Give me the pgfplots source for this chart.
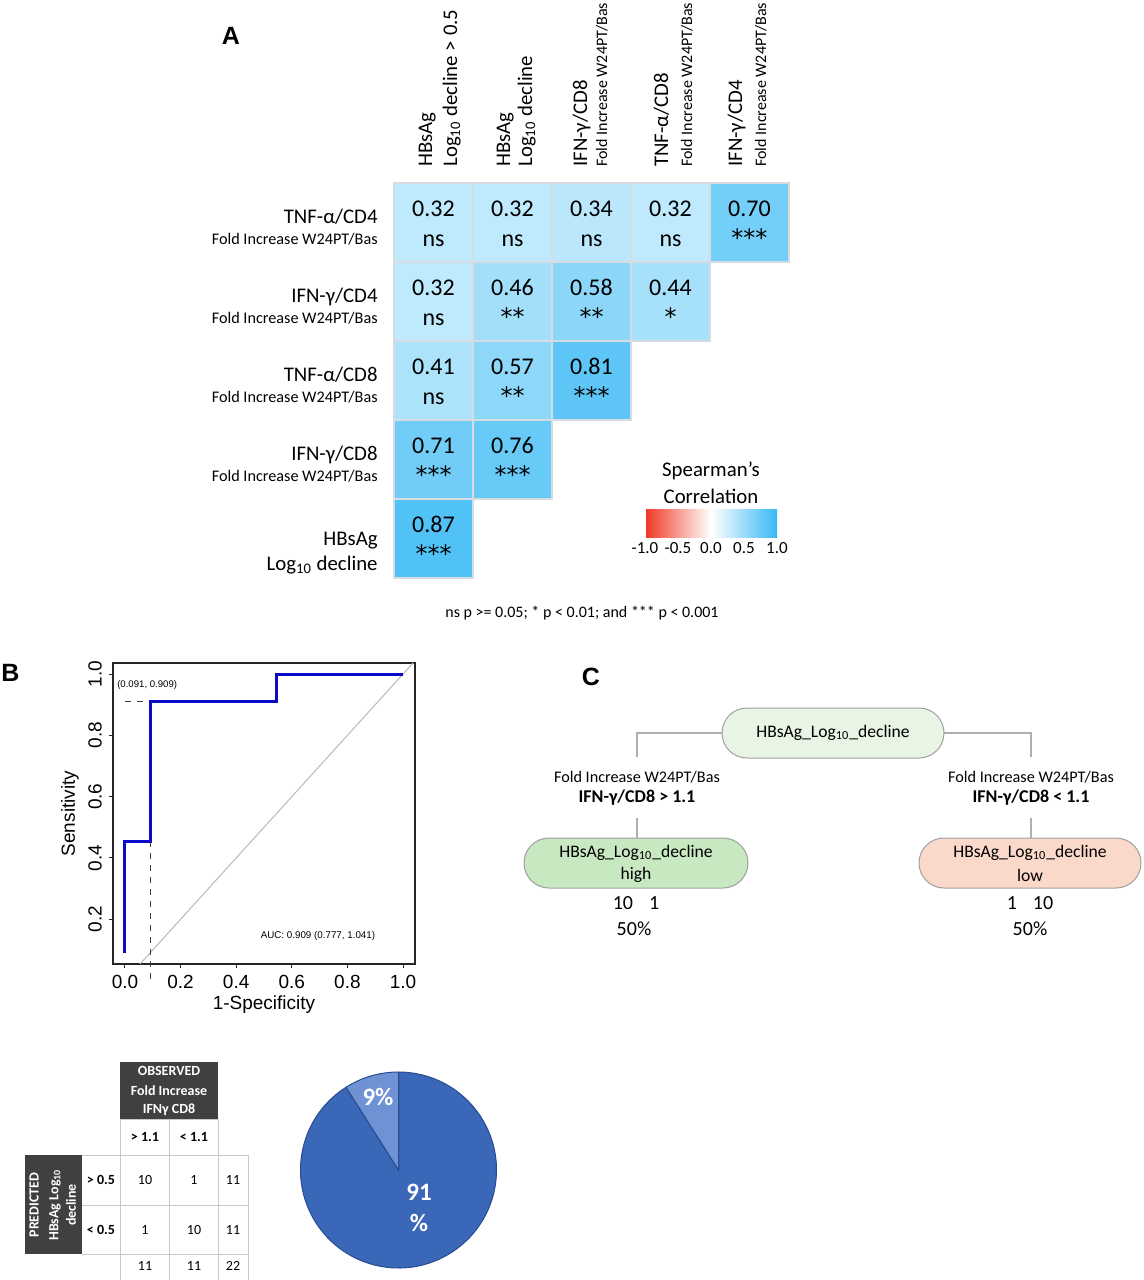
\documentclass[border=0pt]{standalone}
\usepackage{pgfplots}
\pgfplotsset{compat=1.18}
\usepackage{pgfplotstable}
\usepackage{fontspec}
\setmainfont{Carlito}
\newfontfamily\arialf{Liberation Sans}
\newfontfamily\dejavu{DejaVu Sans}
\usetikzlibrary{shapes.misc,calc}

\definecolor{cellborder}{RGB}{214,220,226}
\definecolor{rocblue}{RGB}{10,10,200}
\definecolor{rootgreen}{RGB}{232,245,228}
\definecolor{leafgreen}{RGB}{200,232,194}
\definecolor{leafpink}{RGB}{251,217,202}
\definecolor{darkhdr}{RGB}{64,64,64}
\definecolor{piebig}{RGB}{58,103,184}
\definecolor{piesmall}{RGB}{110,146,212}
\definecolor{pieedge}{RGB}{40,75,145}
\definecolor{tableline}{RGB}{200,200,200}
\definecolor{treeline}{RGB}{175,175,175}

\pgfplotsset{
  colormap={spear}{rgb255(0cm)=(240,55,35); rgb255(1cm)=(255,255,255); rgb255(2cm)=(55,185,245)}
}
\newcommand{\fnt}[1]{\fontsize{#1}{#1}\selectfont}
\def\nsstr{ns}
\newcommand{\sigfmt}{\edef\tmpsig{\pgfplotspointmeta}\ifx\tmpsig\nsstr ns\else{\dejavu\tmpsig}\fi}

% correlation matrix (x = column, y = row from bottom)
\pgfplotstableread{
x y r sig
1 5 0.32 ns
2 5 0.32 ns
3 5 0.34 ns
4 5 0.32 ns
5 5 0.70 ***
1 4 0.32 ns
2 4 0.46 **
3 4 0.58 **
4 4 0.44 *
1 3 0.41 ns
2 3 0.57 **
3 3 0.81 ***
1 2 0.71 ***
2 2 0.76 ***
1 1 0.87 ***
}\corrtable

% ROC curve
\pgfplotstableread{
fpr tpr
0.000 0.0909
0.000 0.4545
0.0909 0.4545
0.0909 0.9091
0.5455 0.9091
0.5455 1.0000
1.0000 1.0000
}\roctable

% pie
\pgfplotstableread{
slice value
correct 91
wrong 9
}\pietable
\pgfplotstablegetelem{1}{value}\of\pietable
\let\pieWrong\pgfplotsretval
\pgfmathsetmacro\pieAngle{90+3.6*\pieWrong}

\begin{document}
\begin{tikzpicture}[x=0.5pt,y=-0.5pt]
\useasboundingbox (0,0) rectangle (1144,1280);
\coordinate (hmSW) at (394,578);
\coordinate (rocSW) at (113,964);
\coordinate (pieC) at (398.5,1170);

% ---------------- Panel A ----------------
\node[font=\arialf\bfseries\fnt{12.5}] at (231,36) {A};

\begin{axis}[at={(hmSW)}, anchor=south west, scale only axis,
  width=197.5pt, height=197.5pt,
  xmin=0.5, xmax=5.5, ymin=0.5, ymax=5.5,
  axis line style={draw=none}, xtick=\empty, ytick=\empty,
  clip=false,
  colormap name=spear, point meta min=-1, point meta max=1,
  colorbar horizontal,
  colorbar style={
    at={($(parent axis.south west)+(125.5pt,29pt)$)}, anchor=south west,
    scale only axis, width=66pt, height=14pt,
    xtick={-1,-0.5,0,0.5,1}, major tick length=0pt,
    axis line style={draw=none},
    xticklabel style={font=\fnt{8.5}, yshift=1pt},
    /pgf/number format/fixed, /pgf/number format/fixed zerofill,
    /pgf/number format/precision=1, /pgf/number format/assume math mode=true,
  },
]
\addplot[scatter, only marks, mark=square*, mark size=19.6pt, line width=1.1pt,
  point meta=\thisrow{r},
  scatter/use mapped color={draw=cellborder, fill=mapped color}]
  table[x=x, y=y] {\corrtable};
\addplot[only marks, mark=none, point meta=\thisrow{r},
  nodes near coords={\pgfmathprintnumber[fixed,fixed zerofill,precision=2,assume math mode=true]{\pgfplotspointmeta}},
  nodes near coords style={anchor=base, yshift=3.25pt, font=\fnt{12}, inner sep=0pt}]
  table[x=x, y=y] {\corrtable};
\addplot[only marks, mark=none, point meta=explicit symbolic,
  nodes near coords={\sigfmt},
  nodes near coords style={anchor=base, yshift=-11.9pt, font=\fnt{12}, inner sep=0pt}]
  table[x=x, y=y, meta=sig] {\corrtable};
\end{axis}

% row labels
\node[anchor=base east, inner sep=0, font=\fnt{10.4}] at (378,223.5) {TNF-α/CD4};
\node[anchor=base east, inner sep=0, font=\fnt{8.1}] at (378,244.5) {Fold Increase W24PT/Bas};
\node[anchor=base east, inner sep=0, font=\fnt{10.4}] at (378,302.5) {IFN-γ/CD4};
\node[anchor=base east, inner sep=0, font=\fnt{8.1}] at (378,323.5) {Fold Increase W24PT/Bas};
\node[anchor=base east, inner sep=0, font=\fnt{10.4}] at (378,381.5) {TNF-α/CD8};
\node[anchor=base east, inner sep=0, font=\fnt{8.1}] at (378,402.5) {Fold Increase W24PT/Bas};
\node[anchor=base east, inner sep=0, font=\fnt{10.4}] at (378,460.5) {IFN-γ/CD8};
\node[anchor=base east, inner sep=0, font=\fnt{8.1}] at (378,481.5) {Fold Increase W24PT/Bas};
\node[anchor=base east, inner sep=0, font=\fnt{10.4}] at (378,545) {HBsAg};
\node[anchor=base east, inner sep=0, font=\fnt{10.4}] at (378,570) {Log\textsubscript{10} decline};

% column labels
\node[rotate=90, anchor=base west, inner sep=0, font=\fnt{10.4}] at (432,167) {HBsAg};
\node[rotate=90, anchor=base west, inner sep=0, font=\fnt{10.4}] at (457,167) {Log\textsubscript{10} decline > 0.5};
\node[rotate=90, anchor=base west, inner sep=0, font=\fnt{10.4}] at (510,167) {HBsAg};
\node[rotate=90, anchor=base west, inner sep=0, font=\fnt{10.4}] at (532,167) {Log\textsubscript{10} decline};
\node[rotate=90, anchor=base west, inner sep=0, font=\fnt{10.4}] at (587,167) {IFN-γ/CD8};
\node[rotate=90, anchor=base west, inner sep=0, font=\fnt{8}] at (607,167) {Fold Increase W24PT/Bas};
\node[rotate=90, anchor=base west, inner sep=0, font=\fnt{10.4}] at (668,167) {TNF-α/CD8};
\node[rotate=90, anchor=base west, inner sep=0, font=\fnt{8}] at (692,167) {Fold Increase W24PT/Bas};
\node[rotate=90, anchor=base west, inner sep=0, font=\fnt{10.4}] at (742,167) {IFN-γ/CD4};
\node[rotate=90, anchor=base west, inner sep=0, font=\fnt{8}] at (766,167) {Fold Increase W24PT/Bas};

% colorbar title & footnote
\node[font=\fnt{10.4}, inner sep=0] at (711,471) {Spearman’s};
\node[font=\fnt{10.4}, inner sep=0] at (711,496) {Correlation};
\node[font=\fnt{8}, inner sep=0] at (582,613) {ns p >= 0.05; * p < 0.01; and *** p < 0.001};

% ---------------- Panel B (ROC) ----------------
\node[font=\arialf\bfseries\fnt{12.5}, anchor=west, inner sep=0] at (1,673) {B};
\begin{axis}[at={(rocSW)}, anchor=south west, scale only axis,
  width=151pt, height=150.5pt,
  xmin=-0.043, xmax=1.043, ymin=0.054, ymax=1.036,
  xtick={0,0.2,0.4,0.6,0.8,1}, ytick={0.2,0.4,0.6,0.8,1},
  tick align=outside, tick pos=left, major tick length=2pt,
  axis line style={black!85, line width=0.55pt},
  tick style={black!85, line width=0.5pt},
  /pgf/number format/fixed, /pgf/number format/fixed zerofill,
  /pgf/number format/precision=1, /pgf/number format/assume math mode=true,
  ticklabel style={font=\arialf\fnt{9.5}},
  yticklabel style={rotate=90, anchor=south},
  xlabel={1-Specificity}, ylabel={Sensitivity},
  label style={font=\arialf\fnt{9.5}},
  xlabel style={yshift=3.5pt}, ylabel style={yshift=-2pt},
  clip=false,
]
\addplot[gray!55, line width=0.5pt] coordinates {(0.054,0.054) (1.036,1.036)};
\addplot[black!75, dashed, line width=0.45pt] coordinates {(0,0.9091) (0.0909,0.9091)};
\addplot[black!75, dashed, line width=0.45pt] coordinates {(0.0909,0.4545) (0.0909,0.0)};
\addplot[rocblue, line width=1.5pt] table[x=fpr, y=tpr] {\roctable};
\node[font=\arialf\fnt{4.8}, anchor=west, inner sep=0] at (axis cs:-0.029,0.964) {(0.091, 0.909)};
\node[font=\arialf\fnt{4.9}, inner sep=0] at (axis cs:0.694,0.146) {AUC: 0.909 (0.777, 1.041)};
\end{axis}

% ---------------- Panel C (tree) ----------------
\node[font=\arialf\bfseries\fnt{12.5}, inner sep=0] at (591,677) {C};
\draw[treeline, line width=0.6pt] (722,733) -- (637,733) -- (637,757);
\draw[treeline, line width=0.6pt] (944,733) -- (1031,733) -- (1031,757);
\draw[treeline, line width=0.6pt] (637,818) -- (637,838);
\draw[treeline, line width=0.6pt] (1031,818) -- (1031,838);
\node[rounded rectangle, draw=gray!75, line width=0.5pt, fill=rootgreen,
  minimum width=111pt, minimum height=25pt, inner sep=0pt, font=\fnt{8.8}]
  at (833,733) {HBsAg\_Log\textsubscript{10}\_decline};
\node[rounded rectangle, draw=gray!75, line width=0.5pt, fill=leafgreen,
  minimum width=112pt, minimum height=25pt, inner sep=0pt] at (636,863) {};
\node[font=\fnt{8.8}, inner sep=0] at (636,853) {HBsAg\_Log\textsubscript{10}\_decline};
\node[font=\fnt{8.8}, inner sep=0] at (636,875) {high};
\node[rounded rectangle, draw=gray!75, line width=0.5pt, fill=leafpink,
  minimum width=111pt, minimum height=25pt, inner sep=0pt] at (1030,863) {};
\node[font=\fnt{8.8}, inner sep=0] at (1030,853) {HBsAg\_Log\textsubscript{10}\_decline};
\node[font=\fnt{8.8}, inner sep=0] at (1030,875) {low};
\node[font=\fnt{8.1}, inner sep=0] at (637,777) {Fold Increase W24PT/Bas};
\node[font=\bfseries\fnt{9}, inner sep=0] at (637,798) {IFN-γ/CD8 > 1.1};
\node[font=\fnt{8.1}, inner sep=0] at (1031,777) {Fold Increase W24PT/Bas};
\node[font=\bfseries\fnt{9}, inner sep=0] at (1031,798) {IFN-γ/CD8 < 1.1};
\node[font=\fnt{10}, inner sep=0] at (636,903) {10\hspace{0.8em}1};
\node[font=\fnt{10}, inner sep=0] at (634,929) {50\%};
\node[font=\fnt{10}, inner sep=0] at (1030,903) {1\hspace{0.8em}10};
\node[font=\fnt{10}, inner sep=0] at (1030,929) {50\%};

% ---------------- Confusion table ----------------
\fill[darkhdr] (120,1062) rectangle (218,1119);
\fill[darkhdr] (25,1155) rectangle (82,1254);
\node[text=white, font=\bfseries\fnt{7}, inner sep=0] at (169,1071) {OBSERVED};
\node[text=white, font=\bfseries\fnt{7}, inner sep=0] at (169,1091) {Fold Increase};
\node[text=white, font=\bfseries\fnt{7}, inner sep=0] at (169,1110) {IFNγ CD8};
\node[text=white, font=\bfseries\fnt{7}, inner sep=0, rotate=90] at (34,1205) {PREDICTED};
\node[text=white, font=\bfseries\fnt{7}, inner sep=0, rotate=90] at (55,1205) {HBsAg Log\textsubscript{10}};
\node[text=white, font=\bfseries\fnt{7}, inner sep=0, rotate=90] at (71,1205) {decline};
\draw[tableline, line width=0.5pt] (120,1119) -- (120,1280);
\draw[tableline, line width=0.5pt] (169,1119) -- (169,1280);
\draw[tableline, line width=0.5pt] (218,1119) -- (218,1280);
\draw[tableline, line width=0.5pt] (248,1155) -- (248,1280);
\draw[tableline, line width=0.5pt] (120,1119) -- (218,1119);
\draw[tableline, line width=0.5pt] (82,1155) -- (248,1155);
\draw[tableline, line width=0.5pt] (82,1205) -- (248,1205);
\draw[tableline, line width=0.5pt] (82,1254) -- (248,1254);
\node[font=\bfseries\fnt{7}, inner sep=0] at (145,1137) {> 1.1};
\node[font=\bfseries\fnt{7}, inner sep=0] at (194,1137) {< 1.1};
\node[font=\bfseries\fnt{7}, inner sep=0] at (101,1180) {> 0.5};
\node[font=\bfseries\fnt{7}, inner sep=0] at (101,1230) {< 0.5};
\node[font=\fnt{7}, inner sep=0] at (145,1180) {10};
\node[font=\fnt{7}, inner sep=0] at (194,1180) {1};
\node[font=\fnt{7}, inner sep=0] at (233,1180) {11};
\node[font=\fnt{7}, inner sep=0] at (145,1230) {1};
\node[font=\fnt{7}, inner sep=0] at (194,1230) {10};
\node[font=\fnt{7}, inner sep=0] at (233,1230) {11};
\node[font=\fnt{7}, inner sep=0] at (145,1266) {11};
\node[font=\fnt{7}, inner sep=0] at (194,1266) {11};
\node[font=\fnt{7}, inner sep=0] at (233,1266) {22};

% ---------------- Pie ----------------
\begin{axis}[at={(pieC)}, anchor=center, scale only axis,
  width=98pt, height=98pt, xmin=-1, xmax=1, ymin=-1, ymax=1,
  hide axis, clip=false]
\addplot[draw=none] coordinates {(0,0)};
\filldraw[fill=piebig, draw=pieedge, line width=0.5pt]
  (axis cs:0,0) -- ++(\pieAngle:49pt) arc[start angle=\pieAngle, end angle=450, radius=49pt] -- cycle;
\filldraw[fill=piesmall, draw=pieedge, line width=0.5pt]
  (axis cs:0,0) -- ++(90:49pt) arc[start angle=90, end angle=\pieAngle, radius=49pt] -- cycle;
\end{axis}
\node[text=white, font=\bfseries\fnt{12.5}, inner sep=0] at (378,1097) {9\%};
\node[text=white, font=\bfseries\fnt{12.5}, inner sep=0] at (419,1192) {91};
\node[text=white, font=\bfseries\fnt{12.5}, inner sep=0] at (419,1223) {\%};
\end{tikzpicture}
\end{document}
